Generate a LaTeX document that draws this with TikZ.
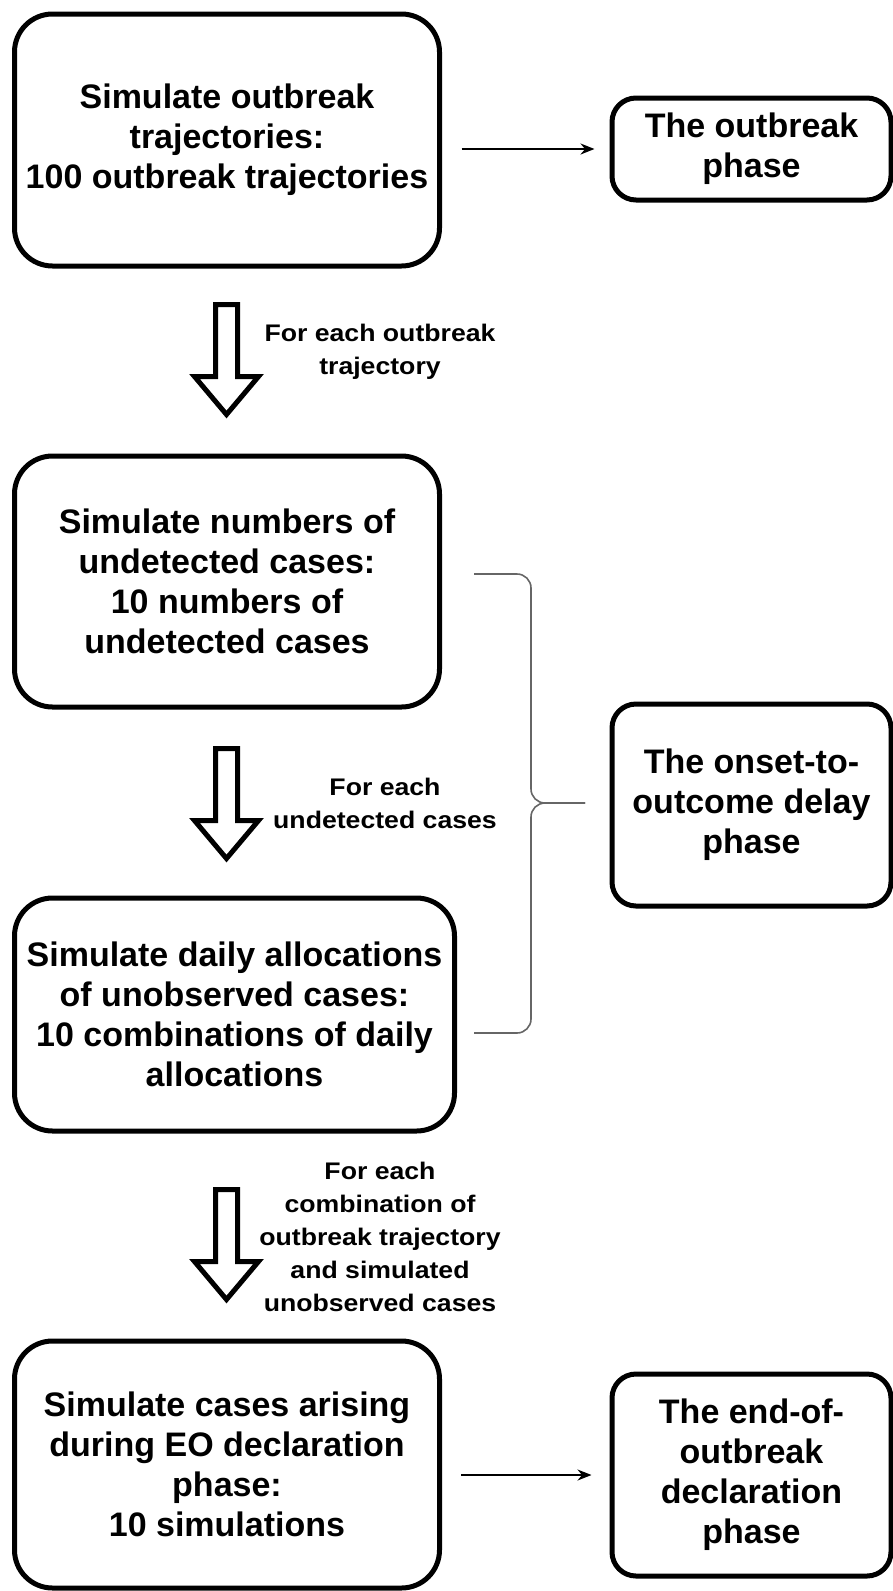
\documentclass[tikz,border=0pt]{standalone}
\usepackage{fontspec}
\setmainfont{Liberation Sans}
\newfontfamily\notefont[FakeStretch=1.11]{Liberation Sans}
\usetikzlibrary{arrows.meta}

\tikzset{
  simbox/.style={draw, line width=5pt, rounded corners=38pt, align=center,
    inner sep=0pt, font=\fontsize{34}{40}\selectfont\bfseries},
  phasebox/.style={draw, line width=5pt, rounded corners=24pt, align=center,
    inner sep=0pt, font=\fontsize{34}{40}\selectfont\bfseries},
  note/.style={align=center, inner sep=0pt,
    font=\notefont\fontsize{24}{33}\selectfont\bfseries},
  flow/.style={line width=1.8pt, -{Stealth[length=14pt,width=11pt]}},
  bracket/.style={line width=1.6pt, draw=black!60, rounded corners=14pt},
  downarrow/.pic={
    \draw[line width=5pt, line join=miter]
      (-11,0) -- (11,0) -- (11,72) -- (32,72) -- (0,110) -- (-32,72) -- (-11,72) -- cycle;
  }
}

\begin{document}
\begin{tikzpicture}[x=1pt, y=-1pt]
    \useasboundingbox (0,0) rectangle (892,1591);

    % simulation steps
    \node[simbox, minimum width=425, minimum height=252] (sim1) at (227,140)
      {Simulate outbreak\\trajectories:\\100 outbreak trajectories};
    \node[simbox, minimum width=425, minimum height=251] (sim2) at (227,581.5)
      {Simulate numbers of\\undetected cases:\\10 numbers of\\undetected cases};
    \node[simbox, minimum width=440, minimum height=233] (sim3) at (234.5,1014.5)
      {Simulate daily allocations\\of unobserved cases:\\10 combinations of daily\\allocations};
    \node[simbox, minimum width=425, minimum height=247] (sim4) at (227,1464.5)
      {Simulate cases arising\\during EO declaration\\phase:\\10 simulations};

    % phases
    \node[phasebox, minimum width=279, minimum height=102] (outbreak) at (751.5,149)
      {The outbreak\\phase};
    \node[phasebox, minimum width=279, minimum height=202] (delay) at (751.5,805)
      {The onset-to-\\outcome delay\\phase};
    \node[phasebox, minimum width=279, minimum height=202] (declare) at (751.5,1475)
      {The end-of-\\outbreak\\declaration\\phase};

    % block arrows and their notes
    \pic (arr1) at (226.5,304.5) {downarrow};
    \pic (arr2) at (226.5,748.5) {downarrow};
    \pic (arr3) at (226.5,1189.5) {downarrow};
    \node[note] (note1) at (380,352) {For each outbreak\\trajectory};
    \node[note] (note2) at (385,803) {For each\\undetected cases};
    \node[note] (note3) at (380,1237) {For each\\combination of\\outbreak trajectory\\and simulated\\unobserved cases};

    % links to phases
    \draw[flow, shorten <=19.5pt, shorten >=15pt] (outbreak.west -| sim1.east) -- (outbreak.west);
    \draw[flow, shorten <=19pt, shorten >=18pt] (declare.west -| sim4.east) -- (declare.west);

    % brace
    \coordinate (brtop) at (474,574);
    \coordinate (brbot) at (474,1033);
    \coordinate (brtip) at (585,803);
    \draw[bracket] (brtop) -- (531,574) -- (531,803) -- (brtip);
    \draw[bracket] (brbot) -- (531,1033) -- (531,803) -- (brtip);
\end{tikzpicture}
\end{document}
